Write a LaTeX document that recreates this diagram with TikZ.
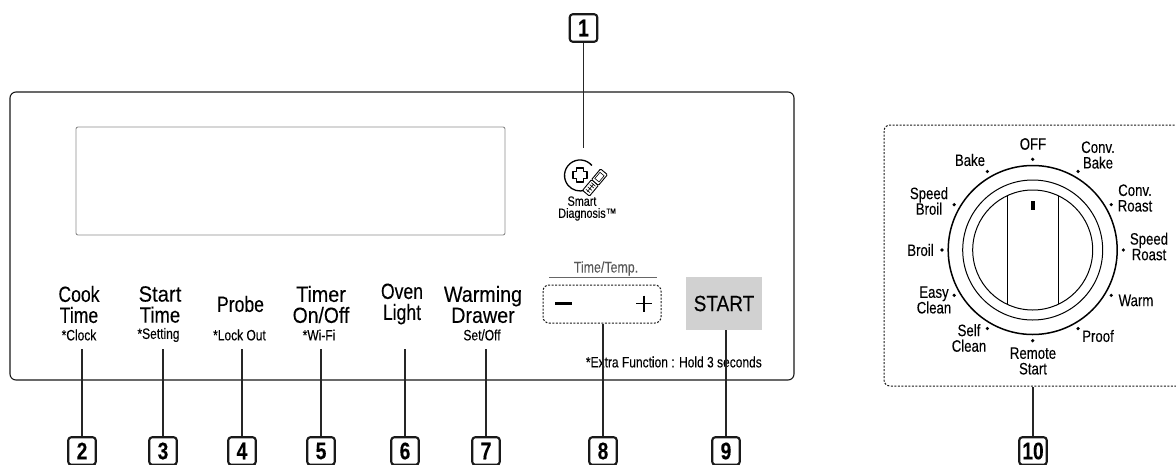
\documentclass[tikz,border=0pt]{standalone}
\usepackage{fontspec}
\usetikzlibrary{calc}
\setmainfont[FakeStretch=0.8,FakeBold=0.15]{Liberation Sans}
\newcommand{\wider}[2]{\scalebox{#1}[1]{#2}}
\tikzset{
 x=1pt,y=-1pt,
 big/.style={align=center,inner sep=0pt,text=black,font=\fontsize{22}{21}\selectfont},
 sub/.style={inner sep=0pt,text=black,font=\fontsize{15}{14}\selectfont},
 dial/.style={align=center,inner sep=0pt,text=black,font=\fontsize{16.5}{15.6}\selectfont},
 tiny/.style={align=center,inner sep=0pt,text=black,font=\fontsize{13.5}{12}\selectfont},
 callout/.style={draw=black!90,line width=2.1pt,rounded corners=3pt,minimum width=27.5pt,minimum height=27.5pt,inner sep=0pt,font=\fontsize{24}{24}\selectfont\bfseries},
 leader/.style={draw=black!85,line width=1.1pt},
 dashbox/.style={draw=black!90,dash pattern=on 2pt off 1.5pt,line width=1pt,rounded corners=6pt,inner sep=0pt},
 ddot/.style={circle,fill=black,inner sep=0pt,minimum size=3.6pt},
}
\begin{document}
\begin{tikzpicture}
\path[use as bounding box] (0,0) rectangle (1176,464);
\clip (0,0) rectangle (1176,464);
% panel and display
\node[draw=black!90,line width=1.1pt,rounded corners=6pt,minimum width=784pt,minimum height=288pt,inner sep=0pt] (panel) at (402,236) {};
\node[draw=black!45,line width=0.9pt,rounded corners=2pt,minimum width=429pt,minimum height=108pt,inner sep=0pt] (display) at (290.5,181) {};
% smart diagnosis icon
\draw[line width=1.3pt,black] (591.9,165.5) arc[start angle=-40,end angle=-290,radius=15.5];
\draw[line width=1.3pt,black,line join=round] (576.5,168)--(583.5,168)--(583.5,171.5)--(587,171.5)--(587,178.5)--(583.5,178.5)--(583.5,182)--(576.5,182)--(576.5,178.5)--(573,178.5)--(573,171.5)--(576.5,171.5)--cycle;
\begin{scope}[shift={(595,182.5)},rotate=140]
 \draw[line width=0.9pt,black,rounded corners=1pt,fill=white] (-4.5,-14)rectangle(4.5,0);
 \draw[line width=0.9pt,black,rounded corners=1pt,fill=white] (-4.5,0)rectangle(4.5,14);
 \draw[line width=0.6pt,black] (-2.7,3)rectangle(2.7,11);
 \draw[line width=0.6pt,black] (-2.7,-11)--(2.7,-11) (-2.7,-8)--(2.7,-8) (-2.7,-5)--(2.7,-5) (-2.7,-2.5)--(2.7,-2.5) (0,-12)--(0,-2);
\end{scope}
\node[tiny] (smart) at (582,208.5) {Smart\\Diagnosis\rlap{™}};
% button labels
\node[big] (cook) at (79,304.5) {Cook\\Time};
\node[sub] (clock) at (79,335) {*Clock};
\node[big] (starttime) at (160,304.5) {\wider{1.15}{Start}\\\wider{1.05}{Time}};
\node[sub] (setting) at (158.5,335) {*Setting};
\node[big] (probe) at (240.5,304) {Probe};
\node[sub] (lock) at (239.5,335) {*Lock Out};
\node[big] (timer) at (321,304.5) {\wider{1.12}{Timer}\\\wider{1.1}{On/Off}};
\node[sub] (wifi) at (319,335) {*Wi-Fi};
\node[big] (oven) at (402,304) {Oven\\Light};
\node[big] (warm) at (483,304.5) {\wider{1.12}{Warming}\\\wider{1.12}{Drawer}};
\node[sub] (setoff) at (482,335) {Set/Off};
% time/temp
\node[inner sep=0pt,text=black!65,font=\fontsize{15.5}{15}\selectfont] (tt) at (606,268.5) {Time/Temp.};
\coordinate (ruleL) at (549,277.7);
\coordinate (ruleR) at (657,277.7);
\draw[black!60,line width=1.2pt] (ruleL)--(ruleR);
\node[dashbox,minimum width=118pt,minimum height=38pt] (ttbox) at (602,304) {};
\draw[black,line width=2.6pt] (555,303.5)--(572,303.5);
\draw[black,line width=1.5pt] (636,303.5)--(652,303.5) (644,295.5)--(644,311.5);
\node[fill=black!18,minimum width=76pt,minimum height=53pt,inner sep=0pt,big] (start) at (724,303.5) {\wider{1.08}{START}};
\node[inner sep=0pt,text=black,font=\fontsize{15}{14}\selectfont,anchor=east] (extra) at (762,362) {*Extra Function : Hold 3 seconds};
% callouts
\node[callout] (c1) at (583.5,28) {1};
\node[callout] (c2) at (82,451) {2};
\node[callout] (c3) at (163,451) {3};
\node[callout] (c4) at (242,451) {4};
\node[callout] (c5) at (321,451) {5};
\node[callout] (c6) at (405,451) {6};
\node[callout] (c7) at (486,451) {7};
\node[callout] (c8) at (603,451) {8};
\node[callout] (c9) at (726,451) {9};
\node[callout] (c10) at (1033,451) {10};
% leaders
\coordinate (e1) at (583.5,148);
\coordinate (e2) at (82,349);
\coordinate (e3) at (163,349);
\coordinate (e4) at (242,349);
\coordinate (e5) at (321,349);
\coordinate (e6) at (405,349);
\coordinate (e7) at (486,349);
\draw[leader] (c1)--(e1);
\draw[leader] (c2)--(e2);
\draw[leader] (c3)--(e3);
\draw[leader] (c4)--(e4);
\draw[leader] (c5)--(e5);
\draw[leader] (c6)--(e6);
\draw[leader] (c7)--(e7);
\draw[leader] (c8.north)--(c8.north |- ttbox.south);
\draw[leader] (c9.north)--(c9.north |- start.south);
% dial
\node[dashbox,minimum width=300pt,minimum height=261pt] (dialbox) at (1034,255.5) {};
\draw[leader] (c10.north)--(c10.north |- dialbox.south);
\coordinate (O) at (1032.7,250);
\draw[line width=1.5pt,black] (O) circle[radius=84.5];
\draw[line width=1pt,black] (O) circle[radius=70];
\draw[line width=1pt,black] (O) circle[radius=60];
\draw[line width=1pt,black] (1007.7,195.6)--(1007.7,304.4) (1058.3,195.6)--(1058.3,304.4);
\fill[black] (1031,200.5) rectangle (1034.5,210);
\foreach \a/\n in {90/d1,60/d2,30/d3,0/d4,-30/d5,-60/d6,-90/d7,-120/d8,-150/d9,180/d10,150/d11,120/d12}
  \node[ddot] (\n) at ($(O)+({90.7*cos(\a)},{-90.7*sin(\a)})$) {};
\node[dial] (l1) at (1033,144) {OFF};
\node[dial] (l2) at (1098,155) {Conv.\\Bake};
\node[dial] (l3) at (1135,198) {Conv.\\Roast};
\node[dial] (l4) at (1149,246.5) {Speed\\Roast};
\node[dial] (l5) at (1136,300.5) {Warm};
\node[dial] (l6) at (1098,336) {Proof};
\node[dial] (l7) at (1033,361) {Remote\\Start};
\node[dial] (l8) at (969,338) {Self\\Clean};
\node[dial] (l9) at (934,300) {Easy\\Clean};
\node[dial] (l10) at (920.5,250) {Broil};
\node[dial] (l11) at (929,201) {Speed\\Broil};
\node[dial] (l12) at (970,160) {Bake};
\end{tikzpicture}
\end{document}
